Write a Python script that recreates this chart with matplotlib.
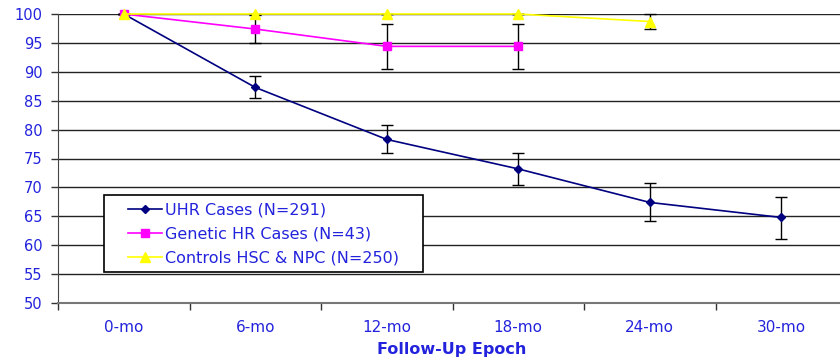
import numpy as np
import matplotlib.pyplot as plt
from matplotlib.patches import Rectangle
from matplotlib.ticker import FixedLocator, NullFormatter

epochs = ['0-mo', '6-mo', '12-mo', '18-mo', '24-mo', '30-mo']

uhr_vals = [100, 87.3, 78.3, 73.2, 67.4, 64.8]
uhr_err_lo = [0, 1.8, 2.4, 2.7, 3.2, 3.7]
uhr_err_hi = [0, 1.9, 2.5, 2.8, 3.3, 3.6]

gen_vals = [100, 97.4, 94.4, 94.4]
gen_err = [0, 2.5, 3.85, 3.85]

ctl_vals = [100, 100, 100, 100, 98.7]
ctl_err = [0, 0, 0, 0, 1.3]

blue_txt = '#2323dd'

plt.rcParams['font.family'] = ['DejaVu Sans']
fig = plt.figure(figsize=(8.4, 3.59), dpi=100)
ax = fig.add_axes([58 / 840, 1 - 303 / 359, 789 / 840, 289 / 359])

x = np.arange(len(epochs))

ax.yaxis.grid(True, color='#222222', linewidth=1.0, zorder=0)
ax.set_axisbelow(True)

ax.errorbar(x, uhr_vals, yerr=[uhr_err_lo, uhr_err_hi], fmt='none', ecolor='black',
            elinewidth=1, capsize=4, capthick=1, zorder=3, clip_on=False)
ax.errorbar(x[:4], gen_vals, yerr=gen_err, fmt='none', ecolor='black',
            elinewidth=1, capsize=4, capthick=1, zorder=3, clip_on=False)
ax.errorbar(x[:5], ctl_vals, yerr=ctl_err, fmt='none', ecolor='black',
            elinewidth=1, capsize=4, capthick=1, zorder=3, clip_on=False)

ax.plot(x, uhr_vals, color='#000080', marker='D', markersize=4, linewidth=1.2,
        label='UHR Cases (N=291)', zorder=4, clip_on=False)
ax.plot(x[:4], gen_vals, color='#ff00ff', marker='s', markersize=6, linewidth=1.2,
        label='Genetic HR Cases (N=43)', zorder=5, clip_on=False)
ax.plot(x[:5], ctl_vals, color='#ffff00', marker='^', markersize=6.5, linewidth=1.2,
        label='Controls HSC & NPC (N=250)', zorder=6, clip_on=False)

ax.set_xlim(-0.5, 5.5)
ax.set_ylim(50, 100)
ax.set_yticks(np.arange(50, 101, 5))

ax.set_xticks(x)
ax.set_xticklabels(epochs)
ax.xaxis.set_minor_locator(FixedLocator(np.arange(-0.5, 6, 1)))
ax.xaxis.set_minor_formatter(NullFormatter())
ax.tick_params(axis='x', which='major', length=0, pad=12, labelsize=11, labelcolor=blue_txt)
ax.tick_params(axis='x', which='minor', length=5, width=1, color='#333333')
ax.tick_params(axis='y', length=5, width=1, color='#333333', labelsize=10.5,
               labelcolor=blue_txt, pad=6)

for side in ['top', 'right']:
    ax.spines[side].set_visible(False)
ax.spines['left'].set_color('#444444')
ax.spines['bottom'].set_color('#777777')
ax.spines['bottom'].set_linewidth(1.5)

ax.set_xlabel('Follow-Up Epoch', color=blue_txt, fontweight='bold', fontsize=11.5)
ax.xaxis.set_label_coords((452 - 58) / 789, -0.135)

# legend box drawn separately so the padding matches the original
box = Rectangle(((104 - 58) / 789, (303 - 272) / 289), (423 - 104) / 789, (272 - 195) / 289,
                transform=ax.transAxes, facecolor='white', edgecolor='black',
                linewidth=1.2, zorder=9)
ax.add_patch(box)
leg = ax.legend(loc='center left', bbox_to_anchor=((128 - 58) / 789, (303 - 234) / 289),
                frameon=False, fontsize=11.5, handlelength=2.1, handletextpad=0.2,
                borderpad=0, labelspacing=0.55, borderaxespad=0)
for t in leg.get_texts():
    t.set_color(blue_txt)
leg.set_zorder(10)

fig.savefig('out.png', dpi=100)
